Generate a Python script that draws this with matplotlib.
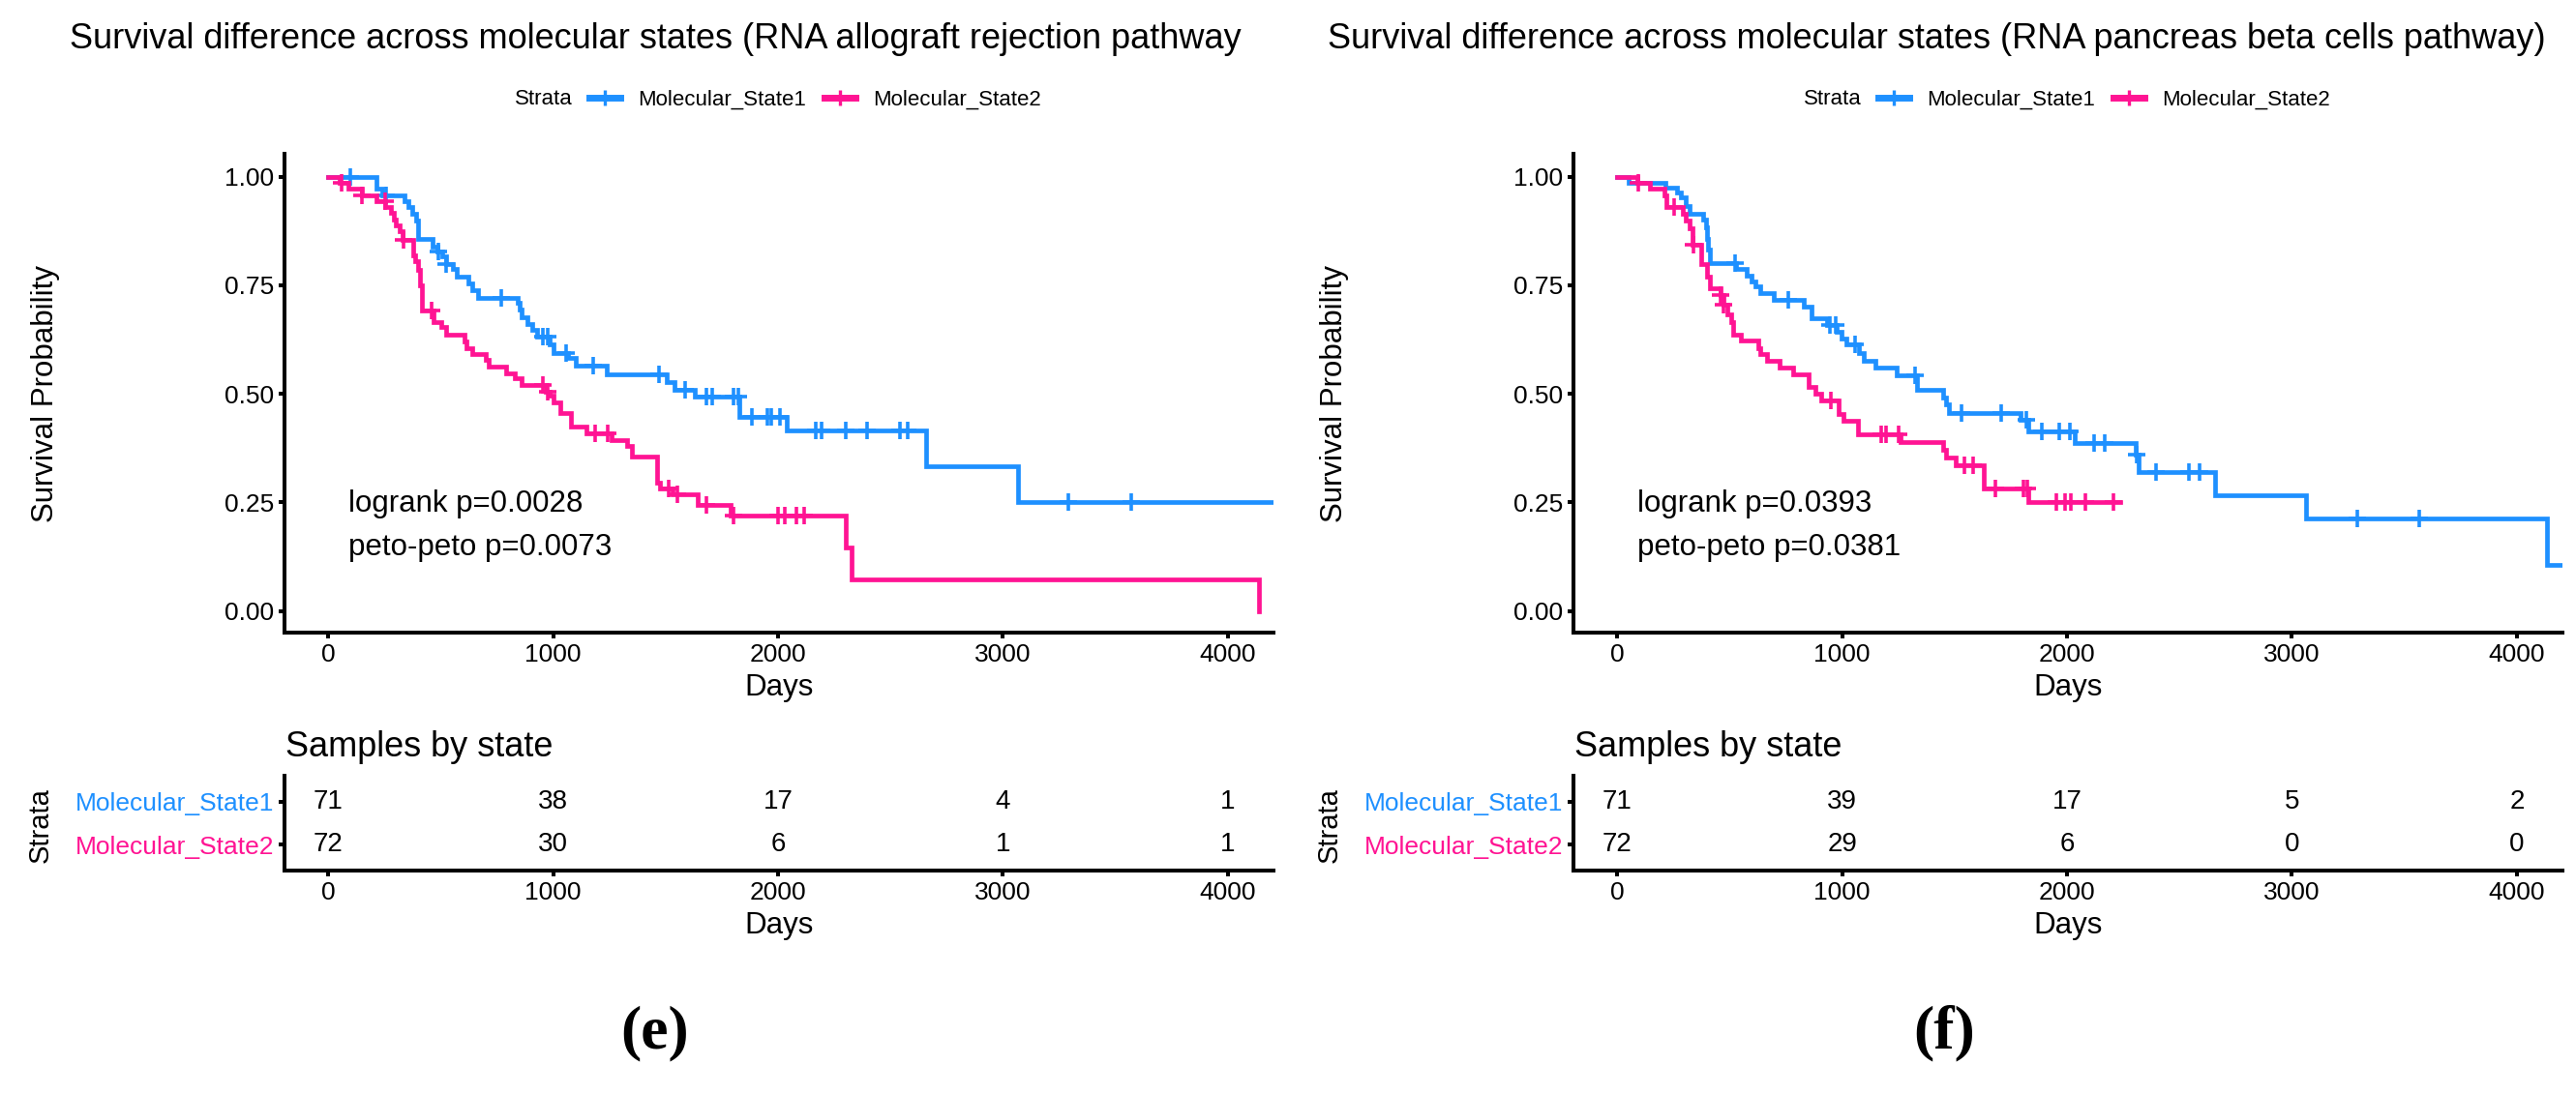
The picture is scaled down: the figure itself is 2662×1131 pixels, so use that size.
import matplotlib.pyplot as plt
from matplotlib.lines import Line2D
import numpy as np

plt.rcParams['font.family'] = ['Liberation Sans', 'DejaVu Sans']

# colours of the two strata
C1 = '#1E90FF'
C2 = '#FF1493'

strata = ['Molecular_State1', 'Molecular_State2']
risk_days = [0, 1000, 2000, 3000, 4000]

# ---- panel (e): RNA allograft rejection pathway ----
e_t1 = [0, 212, 240, 338, 355, 375, 392, 400, 462, 484, 505, 523, 554, 572, 623, 638, 666, 843,
        850, 858, 884, 907, 930, 984, 1000, 1064, 1100, 1238, 1504, 1538, 1630, 1827, 2038, 2656, 3068]
e_s1 = [1.0, 0.972, 0.958, 0.944, 0.93, 0.915, 0.90, 0.856, 0.840, 0.829, 0.817, 0.799, 0.788, 0.771,
        0.754, 0.739, 0.722, 0.710, 0.695, 0.676, 0.661, 0.647, 0.632, 0.614, 0.595, 0.582, 0.565,
        0.546, 0.528, 0.510, 0.493, 0.446, 0.416, 0.333, 0.250]
e_end1 = 4250
e_c1 = [97, 257, 488, 523, 770, 954, 977, 1058, 1177, 1470, 1585, 1680, 1705, 1803, 1823, 1884,
        1953, 1969, 2007, 2166, 2193, 2300, 2394, 2540, 2575, 3289, 3570]

e_t2 = [0, 49, 88, 149, 215, 254, 277, 292, 300, 315, 331, 377, 388, 400, 408, 415, 469, 500, 523,
        607, 615, 638, 700, 715, 792, 830, 861, 969, 984, 1000, 1031, 1077, 1146, 1261, 1330, 1351,
        1460, 1475, 1530, 1644, 1790, 2300, 2327, 4140]
e_s2 = [1.0, 0.986, 0.972, 0.958, 0.944, 0.930, 0.916, 0.902, 0.888, 0.875, 0.855, 0.820, 0.805,
        0.785, 0.750, 0.691, 0.665, 0.654, 0.636, 0.621, 0.606, 0.592, 0.578, 0.563, 0.548, 0.535,
        0.520, 0.505, 0.495, 0.480, 0.456, 0.424, 0.409, 0.394, 0.379, 0.355, 0.295, 0.282, 0.268,
        0.244, 0.219, 0.146, 0.073, 0.0]
e_end2 = 4140
e_c2 = [60, 150, 253, 333, 457, 954, 977, 1186, 1241, 1515, 1551, 1680, 1800, 2000, 2030, 2080, 2115]

e_risk1 = [71, 38, 17, 4, 1]
e_risk2 = [72, 30, 6, 1, 1]
e_pvals = ['logrank p=0.0028', 'peto-peto p=0.0073']
e_title = 'Survival difference across molecular states (RNA allograft rejection pathway'

# ---- panel (f): RNA pancreas beta cells pathway ----
f_t1 = [0, 51, 213, 266, 282, 305, 320, 382, 394, 400, 405, 413, 528, 574, 597, 612, 636, 697, 828,
        863, 932, 974, 997, 1020, 1074, 1097, 1148, 1243, 1333, 1449, 1460, 1473, 1794, 1827, 2035,
        2304, 2317, 2659, 3063, 4136]
f_s1 = [1.0, 0.986, 0.975, 0.964, 0.953, 0.932, 0.915, 0.901, 0.884, 0.858, 0.832, 0.802, 0.788,
        0.773, 0.758, 0.747, 0.732, 0.717, 0.702, 0.674, 0.659, 0.644, 0.628, 0.613, 0.595, 0.577,
        0.561, 0.542, 0.509, 0.491, 0.475, 0.456, 0.441, 0.413, 0.386, 0.361, 0.320, 0.266, 0.212,
        0.107]
f_end1 = 4200
f_c1 = [523, 762, 947, 970, 1057, 1323, 1531, 1709, 1819, 1889, 1966, 2012, 2120, 2166, 2310, 2394,
        2544, 2588, 3290, 3567]

f_t2 = [0, 90, 146, 209, 220, 293, 305, 323, 333, 374, 397, 413, 459, 474, 490, 505, 517, 551, 625,
        636, 666, 720, 782, 851, 882, 905, 982, 1005, 1071, 1259, 1451, 1460, 1506, 1631, 1827]
f_s2 = [1.0, 0.986, 0.973, 0.958, 0.930, 0.914, 0.899, 0.882, 0.843, 0.799, 0.769, 0.743, 0.728,
        0.706, 0.684, 0.665, 0.636, 0.622, 0.606, 0.591, 0.576, 0.560, 0.545, 0.517, 0.500, 0.485,
        0.454, 0.437, 0.407, 0.389, 0.372, 0.353, 0.335, 0.283, 0.250]
f_end2 = 2237
f_c2 = [95, 251, 339, 459, 474, 951, 1173, 1193, 1250, 1544, 1583, 1683, 1804, 1823, 1954, 1993,
        2016, 2083, 2208]

f_risk1 = [71, 39, 17, 5, 2]
f_risk2 = [72, 29, 6, 0, 0]
f_pvals = ['logrank p=0.0393', 'peto-peto p=0.0381']
f_title = 'Survival difference across molecular states (RNA pancreas beta cells pathway)'

W, H = 2662, 1131
LW_AX = 2.9


def frac(x0, y0, x1, y1):
    # pixel box -> figure fraction rect
    return [x0 / W, 1 - y1 / H, (x1 - x0) / W, (y1 - y0) / H]


def km(ax, t, s, end, cens, color):
    tt = np.append(t, end)
    ss = np.append(s, s[-1])
    ax.step(tt, ss, where='post', color=color, lw=3.4, solid_joinstyle='miter')
    idx = np.searchsorted(t, cens, side='right') - 1
    ax.plot(cens, np.array(s)[idx], ls='none', marker='+', ms=13, mew=2.6, color=color)


def style(ax):
    for sp in ['top', 'right']:
        ax.spines[sp].set_visible(False)
    for sp in ['left', 'bottom']:
        ax.spines[sp].set_linewidth(LW_AX)
    ax.tick_params(width=LW_AX, length=4, labelsize=19, pad=4)


def panel(x0, title_x, title, tl, data, risk1, risk2, pvals, tag):
    fig.text(title_x / W, 1 - 41 / H, title, ha='left', va='center', fontsize=26)

    # legend
    fig.text((x0 + 238) / W, 1 - 103 / H, 'Strata', ha='left', va='center', fontsize=16)
    hnd = [Line2D([], [], color=C1, lw=5, marker='+', ms=12, mew=2.4),
           Line2D([], [], color=C2, lw=5, marker='+', ms=12, mew=2.4)]
    fig.legend(hnd, strata, loc='center left', bbox_to_anchor=((x0 + 315) / W, 1 - 103 / H),
               ncol=2, frameon=False, fontsize=16, handlelength=1.45, handletextpad=0.8,
               columnspacing=0.85, borderpad=0, borderaxespad=0)

    ax = fig.add_axes(frac(x0, 159, x0 + 1022, 654))
    for (t, s, end, c), col in zip(data, [C1, C2]):
        km(ax, t, s, end, c, col)
    ax.set_xlim(-195, 4203)
    ax.set_ylim(-0.05, 1.053)
    ax.set_xticks([0, 1000, 2000, 3000, 4000])
    ax.set_yticks([0, 0.25, 0.5, 0.75, 1.0])
    ax.set_yticklabels(['0.00', '0.25', '0.50', '0.75', '1.00'])
    style(ax)
    ax.set_xlabel('Days', fontsize=22.5, labelpad=5)
    ax.text(90, 0.247, pvals[0], fontsize=22.5, va='center', ha='left')
    ax.text(90, 0.145, pvals[1], fontsize=22.5, va='center', ha='left')
    fig.text((x0 + 47 - 294) / W, 1 - 407 / H, 'Survival Probability', rotation=90,
             ha='center', va='center', fontsize=22.5)

    # risk table
    tb = fig.add_axes(frac(x0, 802, x0 + 1022, 900))
    for d, a, b in zip(risk_days, risk1, risk2):
        tb.text(d, 2, str(a), ha='center', va='center', fontsize=20)
        tb.text(d, 1, str(b), ha='center', va='center', fontsize=20)
    tb.set_xlim(-195, 4203)
    tb.set_ylim(0.4, 2.6)
    tb.set_xticks([0, 1000, 2000, 3000, 4000])
    tb.set_yticks([2, 1])
    tb.set_yticklabels(strata)
    style(tb)
    for lab, col in zip(tb.get_yticklabels(), [C1, C2]):
        lab.set_color(col)
    tb.set_xlabel('Days', fontsize=22.5, labelpad=5)
    fig.text((x0 + 42 - 294) / W, 1 - 853 / H, 'Strata', rotation=90,
             ha='center', va='center', fontsize=21)
    fig.text((x0 + 1) / W, 1 - 772 / H, 'Samples by state', ha='left', va='center', fontsize=26)

    fig.text(tl / W, 1 - 1068 / H, tag, ha='center', va='center', fontsize=46,
             fontweight='bold', family=['Liberation Serif', 'DejaVu Serif'])


fig = plt.figure(figsize=(W / 100, H / 100), dpi=100)

panel(294, 72, e_title, 677,
      [(e_t1, e_s1, e_end1, e_c1), (e_t2, e_s2, e_end2, e_c2)],
      e_risk1, e_risk2, e_pvals, '(e)')
panel(1626, 1372, f_title, 2009,
      [(f_t1, f_s1, f_end1, f_c1), (f_t2, f_s2, f_end2, f_c2)],
      f_risk1, f_risk2, f_pvals, '(f)')

fig.savefig('out.png', dpi=100)
